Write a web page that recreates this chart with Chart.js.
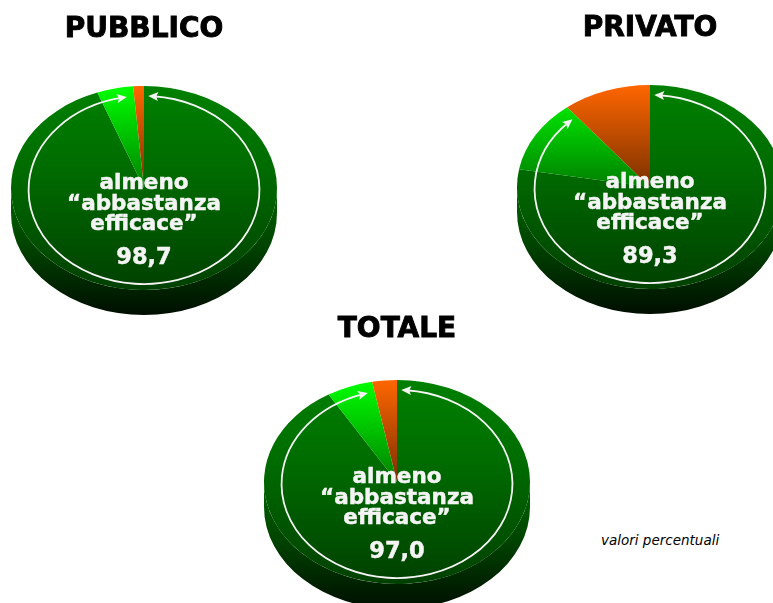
<!DOCTYPE html>
<html lang="it">
<head>
<meta charset="utf-8">
<title>Efficacia - pubblico, privato, totale</title>
<script src="https://cdn.jsdelivr.net/npm/chart.js@4"></script>
<style>
  html, body { margin: 0; padding: 0; background: #fff; }
  #pagina { position: relative; width: 773px; height: 603px; overflow: hidden; }
  #pagina canvas { position: absolute; }
  #nota {
    position: absolute; left: 601px; top: 532px;
    font: italic 13.5px "DejaVu Sans", sans-serif; color: #000;
  }
</style>
</head>
<body>
<div id="pagina">
  <canvas id="chartPubblico" width="300" height="321" style="left:-6px;top:0"></canvas>
  <canvas id="chartPrivato" width="300" height="321" style="left:500px;top:-1px"></canvas>
  <canvas id="chartTotale" width="300" height="321" style="left:247px;top:294px"></canvas>
  <div id="nota">valori percentuali</div>
</div>

<script>
// Dati
const spicchi = ["verde scuro", "verde chiaro", "arancio"];
const pubblico = [94.3, 4.4, 1.3];
const privato = [77.8, 11.5, 10.7];
const totale = [91.4, 5.6, 3.0];
const etichettaCentro = ["almeno", "\u201Cabbastanza", "efficace\u201D"];
const valorePubblico = "98,7";
const valorePrivato = "89,3";
const valoreTotale = "97,0";

const FONT = '"DejaVu Sans", Verdana, sans-serif';
const SCHIACCIA = 102 / 133; // ellisse della faccia superiore
const SPESSORE = 25; // spessore del disco

// gradiente verticale dal bordo alto al centro della torta
function gradiente(chart, alto, centro) {
  const area = chart.chartArea;
  const g = chart.ctx.createLinearGradient(0, area.top, 0, (area.top + area.bottom) / 2);
  g.addColorStop(0, alto);
  g.addColorStop(1, centro);
  return g;
}

function gradienteFaccia(chart) {
  const area = chart.chartArea;
  const g = chart.ctx.createLinearGradient(0, area.top, 0, area.bottom);
  g.addColorStop(0, "#008000");
  g.addColorStop(0.4, "#006c00");
  g.addColorStop(1, "#004000");
  return g;
}

// Punta di freccia: dir = +1 senso orario, -1 antiorario
function punta(ctx, x, y, rx, ry, a, dir) {
  const tx = -rx * Math.sin(a) * dir;
  const ty = ry * Math.cos(a) * dir;
  const n = Math.hypot(tx, ty);
  const ux = tx / n, uy = ty / n;
  ctx.beginPath();
  ctx.moveTo(x + ux * 5, y + uy * 5);
  ctx.lineTo(x - ux * 5 - uy * 4.5, y - uy * 5 + ux * 4.5);
  ctx.lineTo(x - ux * 3, y - uy * 3);
  ctx.lineTo(x - ux * 5 + uy * 4.5, y - uy * 5 - ux * 4.5);
  ctx.closePath();
  ctx.fill();
}

// testo un po' piu' pieno, come nell'originale
function scrivi(ctx, testo, x, y) {
  ctx.fillText(testo, x, y);
  ctx.strokeText(testo, x, y);
}

// Disco in finta 3D: fianco, schiacciamento, anello con frecce e testo al centro
const disco3d = {
  id: "disco3d",
  beforeDatasetsDraw(chart) {
    const ctx = chart.ctx;
    const arc = chart.getDatasetMeta(0).data[0];
    const r = arc.outerRadius;
    const ry = r * SCHIACCIA;
    const g = ctx.createLinearGradient(0, arc.y, 0, arc.y + ry + SPESSORE);
    g.addColorStop(0, "#006600");
    g.addColorStop(0.45, "#004400");
    g.addColorStop(1, "#000e00");
    ctx.save();
    ctx.fillStyle = g;
    ctx.beginPath();
    ctx.ellipse(arc.x, arc.y, r, ry, 0, Math.PI, 0, true);
    ctx.ellipse(arc.x, arc.y + SPESSORE, r, ry, 0, 0, Math.PI);
    ctx.closePath();
    ctx.fill();
    ctx.restore();

    ctx.save();
    ctx.translate(arc.x, arc.y);
    ctx.scale(1, SCHIACCIA);
    ctx.translate(-arc.x, -arc.y);
  },
  afterDatasetsDraw(chart, args, opts) {
    const ctx = chart.ctx;
    ctx.restore();

    const archi = chart.getDatasetMeta(0).data;
    const { x, y, outerRadius: r } = archi[0];
    const cy = y + 2;
    const rx = r * 0.868;
    const ry = r * 0.707;
    const a0 = archi[0].startAngle + 0.08;
    const a1 = archi[1].endAngle - 0.11;

    ctx.save();
    ctx.strokeStyle = "#f4f4f4";
    ctx.fillStyle = "#f4f4f4";
    ctx.lineWidth = 1.8;
    ctx.beginPath();
    ctx.ellipse(x, cy, rx, ry, 0, a0, a1);
    ctx.stroke();
    punta(ctx, x + rx * Math.cos(a0), cy + ry * Math.sin(a0), rx, ry, a0, -1);
    punta(ctx, x + rx * Math.cos(a1), cy + ry * Math.sin(a1), rx, ry, a1, 1);

    ctx.lineWidth = 0.5;
    ctx.font = "bold 21.5px " + FONT;
    ctx.textAlign = "center";
    ctx.textBaseline = "middle";
    scrivi(ctx, etichettaCentro[0], x, y - 5);
    scrivi(ctx, etichettaCentro[1], x, y + 16);
    scrivi(ctx, etichettaCentro[2], x, y + 36);
    ctx.font = "bold 22.5px " + FONT;
    scrivi(ctx, opts.valore, x, y + 70);
    ctx.restore();
  },
  afterDraw(chart) {
    // ripassa il titolo per renderlo piu' pesante
    const t = chart.titleBlock;
    const o = chart.options.plugins.title;
    const ctx = chart.ctx;
    ctx.save();
    ctx.font = `bold ${o.font.size}px ` + FONT;
    ctx.textAlign = "center";
    ctx.textBaseline = "middle";
    ctx.strokeStyle = "#000";
    ctx.lineWidth = 0.9;
    ctx.strokeText(o.text, (t.left + t.right) / 2, t.top + o.padding.top + o.font.size * 0.6);
    ctx.restore();
  },
};

function creaTorta(id, valori, titolo, valore, padTitolo) {
  const ctx = document.getElementById(id).getContext("2d");
  return new Chart(ctx, {
    type: "pie",
    data: {
      labels: spicchi,
      datasets: [{
        data: valori,
        clip: false,
        borderWidth: 0,
        backgroundColor: (c) => {
          if (!c.chart.chartArea) return "#008000";
          if (c.dataIndex === 0) return gradienteFaccia(c.chart);
          if (c.dataIndex === 1) return gradiente(c.chart, "#00ff00", "#007f00");
          return gradiente(c.chart, "#ff6600", "#7a3000");
        },
      }],
    },
    options: {
      responsive: false,
      animation: false,
      events: [],
      layout: { padding: 0 },
      plugins: {
        legend: { display: false },
        tooltip: { enabled: false },
        title: {
          display: true,
          text: titolo,
          color: "#000",
          font: { family: FONT, size: 28, weight: "bold", lineHeight: 1.2 },
          padding: padTitolo,
        },
        disco3d: { valore },
      },
    },
    plugins: [disco3d],
  });
}

creaTorta("chartPubblico", pubblico, "PUBBLICO", valorePubblico, { top: 13, bottom: 8.4 });
creaTorta("chartPrivato", privato, "PRIVATO", valorePrivato, { top: 13, bottom: 8.4 });
creaTorta("chartTotale", totale, "TOTALE", valoreTotale, { top: 19, bottom: 2.4 });
</script>
</body>
</html>
